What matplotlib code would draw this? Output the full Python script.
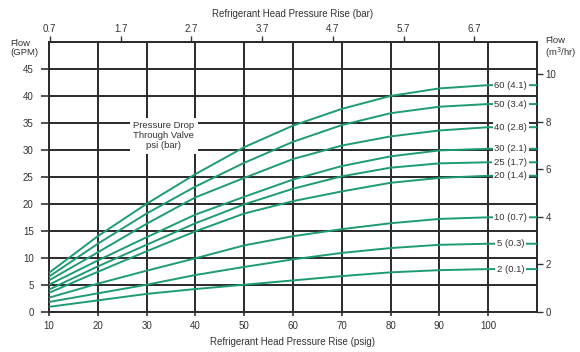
import matplotlib
matplotlib.use("Agg")
import matplotlib.pyplot as plt
import numpy as np

plt.rcParams['font.family'] = ['Liberation Sans', 'DejaVu Sans']

# Refrigerant head pressure rise (psig)
head_rise = [10, 20, 30, 40, 50, 60, 70, 80, 90, 100, 110]

# Flow (GPM) for each pressure drop through valve
flow_60 = [7.2, 14.0, 20.0, 25.5, 30.5, 34.5, 37.6, 40.0, 41.4, 42.0, 42.0]
flow_50 = [6.5, 12.6, 18.2, 23.2, 27.6, 31.5, 34.6, 36.8, 38.0, 38.5, 38.5]
flow_40 = [5.8, 11.0, 16.3, 21.2, 24.8, 28.3, 30.8, 32.5, 33.6, 34.2, 34.2]
flow_30 = [5.0, 9.5, 13.8, 18.0, 21.3, 24.5, 27.0, 28.8, 29.9, 30.2, 30.2]
flow_25 = [4.1, 8.4, 12.4, 16.4, 19.9, 22.8, 25.1, 26.7, 27.5, 27.7, 27.7]
flow_20 = [3.5, 7.4, 11.2, 14.9, 18.2, 20.5, 22.3, 23.9, 24.8, 25.2, 25.2]
flow_10 = [2.6, 5.2, 7.6, 9.9, 12.3, 14.0, 15.3, 16.4, 17.2, 17.5, 17.5]
flow_5 = [1.8, 3.4, 5.0, 6.8, 8.3, 9.7, 10.9, 11.8, 12.4, 12.6, 12.6]
flow_2 = [0.9, 2.1, 3.3, 4.2, 5.0, 5.8, 6.6, 7.3, 7.7, 7.9, 7.9]

series = [flow_60, flow_50, flow_40, flow_30, flow_25, flow_20, flow_10, flow_5, flow_2]
series_labels = ["60 (4.1)", "50 (3.4)", "40 (2.8)", "30 (2.1)", "25 (1.7)",
                 "20 (1.4)", "10 (0.7)", "5 (0.3)", "2 (0.1)"]

x_ticks = [10, 20, 30, 40, 50, 60, 70, 80, 90, 100]
y_ticks = [0, 5, 10, 15, 20, 25, 30, 35, 40, 45]
bar_ticks = [0.7, 1.7, 2.7, 3.7, 4.7, 5.7, 6.7]
m3_ticks = [0, 2, 4, 6, 8, 10]

PSI_PER_BAR = 14.5038
M3H_PER_GPM = 0.22712

green = '#1e9c70'
gridc = '#2a2a2a'

fig = plt.figure(figsize=(5.8, 3.52), dpi=100)
ax = fig.add_axes([49/580, 1-311.7/352, (537-49)/580, (311.7-42)/352])
ax.set_xlim(10, 110)
ax.set_ylim(0, 50)

for v in range(10, 111, 10):
    ax.axvline(v, color=gridc, lw=1.4, zorder=1)
for v in range(0, 51, 5):
    ax.axhline(v, color=gridc, lw=1.4, zorder=1)

for s in ax.spines.values():
    s.set_color(gridc)
    s.set_linewidth(1.4)

for ys, lab in zip(series, series_labels):
    ax.plot(head_rise, ys, color=green, lw=1.4, zorder=3)
    ax.text(104.6, ys[-2], lab, fontsize=6.8, color='#333333', ha='center', va='center',
            zorder=5, bbox=dict(facecolor='white', edgecolor='none', pad=1.2))

ax.text(33.5, 32.6, "Pressure Drop\nThrough Valve\npsi (bar)", fontsize=6.8, color='#333333',
        ha='center', va='center', linespacing=1.15, zorder=5,
        bbox=dict(facecolor='white', edgecolor='none', pad=2.5))

ax.set_xticks(x_ticks)
ax.set_yticks(y_ticks)
ax.tick_params(axis='x', labelsize=7, colors='#333333', length=3, width=1.2, pad=4)
ax.tick_params(axis='y', labelsize=7, colors='#333333', length=6, width=1.2, pad=5)
ax.set_xlabel("Refrigerant Head Pressure Rise (psig)", fontsize=7, color='#333333', labelpad=4)

top = ax.secondary_xaxis('top', functions=(lambda p: p / PSI_PER_BAR, lambda b: b * PSI_PER_BAR))
top.set_xticks(bar_ticks)
top.tick_params(labelsize=7, colors='#333333', length=4, width=1.0, pad=2)
top.set_xlabel("Refrigerant Head Pressure Rise (bar)", fontsize=7, color='#333333', labelpad=5)
top.spines['top'].set_visible(False)

right = ax.secondary_yaxis('right', functions=(lambda g: g * M3H_PER_GPM, lambda m: m / M3H_PER_GPM))
right.set_yticks(m3_ticks)
right.tick_params(labelsize=7, colors='#333333', length=4, width=1.0, pad=2)
right.spines['right'].set_visible(False)

fig.text(10/580, 1-48/352, "Flow\n(GPM)", fontsize=6.8, color='#333333', ha='left', va='center',
         linespacing=1.1)
fig.text(545/580, 1-48/352, "Flow\n(m$^3$/hr)", fontsize=6.8, color='#333333', ha='left',
         va='center', linespacing=1.1)

fig.savefig("out.png", dpi=100, facecolor='white')
